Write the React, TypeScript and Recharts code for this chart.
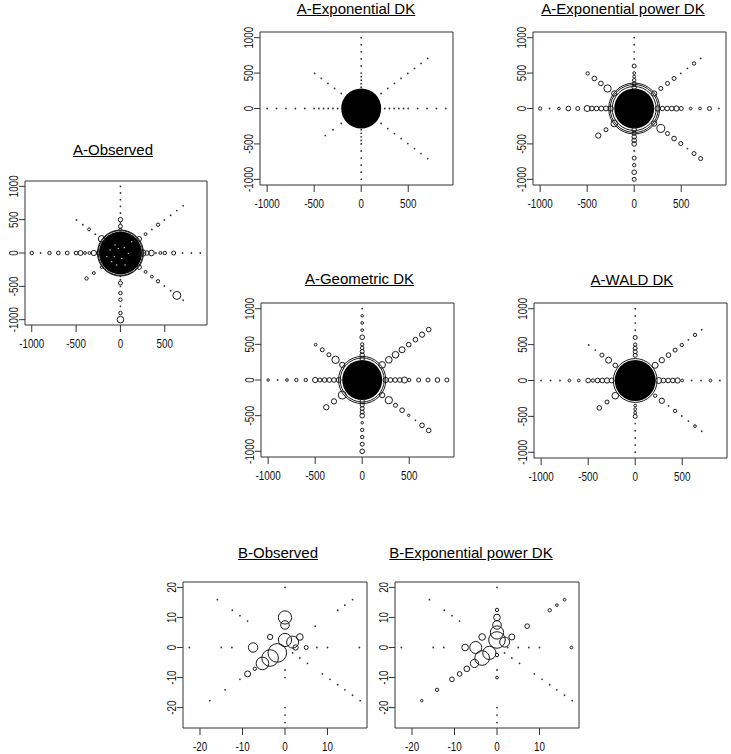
import { ScatterChart, Scatter, XAxis, YAxis, ZAxis, ReferenceArea } from "recharts";

type T = [number, number, number];

// tick values
const aTicksX = [-1000, -500, 0, 500];
const aTicksY = [-1000, -500, 0, 500, 1000];
const bTicksX = [-20, -10, 0, 10];
const bTicksY = [-20, -10, 0, 10, 20];
const aDomX: [number, number] = [-1076, 976];
const aDomY: [number, number] = [-1080, 1080];
const bDomX: [number, number] = [-24, 19.3];
const bDomY: [number, number] = [-26.8, 21.8];

// [x, y, n] : trap location and bubble value (n ~ squared radius)
const aObserved: T[] = [
  [-1000, 0, 3], [-900, 0, 1], [-800, 0, 3], [-700, 0, 3.5], [-600, 0, 3.5], [-500, 0, 3.5], [-450, 0, 6], [-400, 0, 2], [-350, 0, 2], [-300, 0, 7], [-250, 0, 4],
  [250, 0, 11], [300, 0, 5], [350, 0, 8], [400, 0, 1], [450, 0, 2], [500, 0, 3], [600, 0, 4], [700, 0, 1], [800, 0, 1], [900, 0, 1],
  [0, 1000, 1], [0, 900, 1], [0, 800, 1], [0, 700, 1], [0, 600, 1], [0, 500, 5], [0, 450, 1], [0, 400, 4], [0, 350, 2],
  [0, -350, 1], [0, -400, 1], [0, -450, 4], [0, -500, 1], [0, -600, 3], [0, -700, 3], [0, -800, 1], [0, -900, 3], [0, -1000, 11],
  [212, 212, 5.4], [283, 283, 2], [354, 354, 1], [424, 424, 2.8], [495, 495, 1], [566, 566, 1], [636, 636, 1], [707, 707, 1],
  [212, -212, 5], [283, -283, 2], [354, -354, 2], [424, -424, 2.8], [495, -495, 1], [566, -566, 1], [636, -636, 16], [707, -707, 1],
  [-495, 495, 1], [-424, 424, 1], [-354, 354, 2], [-283, 283, 1], [-212, 212, 11],
  [-382, -382, 2.8], [-300, -300, 2], [-212, -212, 1.8],
  [0, 0, 500], [0, 0, 530],
];
const aObservedCore: T[] = [[0, 0, 462]];
// light specks visible inside the saturated centre
const aObservedSpecks: T[] = [
  [-61, 120, 1], [-117, 45, 1], [-24, 70, 1], [44, 80, 1], [-69, -55, 1], [15, -80, 1],
  [89, -5, 1], [-98, -130, 1], [52, -180, 1], [-42, -180, 1], [127, 170, 1], [-154, -55, 1],
];

const aExponentialDK: T[] = [
  [-1000, 0, 1], [-900, 0, 1], [-800, 0, 1], [-700, 0, 1], [-600, 0, 1], [-500, 0, 1], [-450, 0, 1], [-400, 0, 1], [-350, 0, 1], [-300, 0, 1], [-250, 0, 1],
  [250, 0, 1], [300, 0, 1], [350, 0, 1], [400, 0, 1], [450, 0, 1], [500, 0, 1], [600, 0, 1], [700, 0, 1], [800, 0, 1], [900, 0, 1],
  [0, 1000, 1], [0, 900, 1], [0, 800, 1], [0, 700, 1], [0, 600, 1], [0, 500, 1], [0, 450, 1], [0, 400, 1], [0, 350, 1], [0, 300, 1],
  [0, -300, 1], [0, -350, 1], [0, -400, 1], [0, -450, 1], [0, -500, 1], [0, -600, 1], [0, -700, 1], [0, -800, 1], [0, -900, 1], [0, -1000, 1],
  [212, 212, 1], [283, 283, 1], [354, 354, 1], [424, 424, 1], [495, 495, 1], [566, 566, 1], [636, 636, 1], [707, 707, 1],
  [212, -212, 1], [283, -283, 1], [354, -354, 1], [424, -424, 1], [495, -495, 1], [566, -566, 1], [636, -636, 1], [707, -707, 1],
  [-212, 212, 1], [-283, 283, 1], [-354, 354, 1], [-424, 424, 1], [-495, 495, 1],
  [-212, -212, 1], [-300, -300, 1], [-382, -382, 1],
];
const aExponentialDKCore: T[] = [[0, 0, 400]];

const aExpPowerDK: T[] = [
  [-1000, 0, 2.8], [-900, 0, 1], [-800, 0, 1.8], [-700, 0, 5.4], [-600, 0, 4], [-500, 0, 9], [-450, 0, 5.4], [-400, 0, 5.4], [-350, 0, 6], [-300, 0, 6], [-250, 0, 7],
  [250, 0, 7], [300, 0, 5], [350, 0, 5.4], [400, 0, 5.4], [450, 0, 7], [500, 0, 4], [600, 0, 1.8], [700, 0, 1.8], [800, 0, 4], [900, 0, 1],
  [0, 1000, 1], [0, 900, 1], [0, 800, 1], [0, 700, 1], [0, 600, 4], [0, 500, 2], [0, 450, 2], [0, 400, 3], [0, 350, 4], [0, 300, 5],
  [0, -300, 5], [0, -350, 4], [0, -400, 5], [0, -450, 5.4], [0, -500, 5.4], [0, -600, 1], [0, -700, 4], [0, -800, 2.8], [0, -900, 5.4], [0, -1000, 4],
  [212, 212, 7], [283, 283, 4], [354, 354, 4], [424, 424, 4], [495, 495, 1], [566, 566, 1], [636, 636, 2.8], [707, 707, 1],
  [212, -212, 7], [283, -283, 16], [354, -354, 4], [424, -424, 5.4], [495, -495, 4], [566, -566, 1], [636, -636, 4], [707, -707, 4],
  [-495, 495, 2.8], [-424, 424, 5.4], [-354, 354, 5.4], [-283, 283, 13.4], [-212, 212, 7],
  [-382, -382, 7], [-300, -300, 4], [-212, -212, 11],
  [0, 0, 484], [0, 0, 576], [0, 0, 650],
];
const aExpPowerDKCore: T[] = [[0, 0, 400]];

const aGeometricDK: T[] = [
  [-1000, 0, 1.5], [-900, 0, 1], [-800, 0, 1.8], [-700, 0, 2.8], [-600, 0, 2.8], [-500, 0, 7], [-450, 0, 4], [-400, 0, 5.4], [-350, 0, 5.4], [-300, 0, 5.4], [-250, 0, 6],
  [250, 0, 7], [300, 0, 5.4], [350, 0, 5.4], [400, 0, 5.4], [450, 0, 9], [500, 0, 2.8], [600, 0, 4], [700, 0, 4], [800, 0, 5.4], [900, 0, 4],
  [0, 1000, 1], [0, 900, 1.5], [0, 800, 1.8], [0, 700, 1.8], [0, 600, 5.4], [0, 500, 2.8], [0, 450, 3], [0, 400, 4], [0, 350, 5], [0, 300, 5],
  [0, -300, 5], [0, -350, 4], [0, -400, 4], [0, -450, 4], [0, -500, 5.4], [0, -600, 1.5], [0, -700, 2.8], [0, -800, 2.8], [0, -900, 4], [0, -1000, 5.4],
  [212, 212, 11], [283, 283, 11], [354, 354, 11], [424, 424, 9], [495, 495, 5.4], [566, 566, 5.4], [636, 636, 7], [707, 707, 5.4],
  [212, -212, 7], [283, -283, 13.4], [354, -354, 4], [424, -424, 5.4], [495, -495, 1.5], [566, -566, 1], [636, -636, 5.4], [707, -707, 5.4],
  [-495, 495, 1.8], [-424, 424, 4], [-354, 354, 4], [-283, 283, 13.4], [-212, 212, 7],
  [-382, -382, 7], [-300, -300, 7], [-212, -212, 16],
  [0, 0, 484], [0, 0, 560],
];
const aGeometricDKCore: T[] = [[0, 0, 400]];

const aWaldDK: T[] = [
  [-1000, 0, 1], [-900, 0, 1], [-800, 0, 1], [-700, 0, 1.8], [-600, 0, 1.8], [-500, 0, 5.4], [-450, 0, 2.8], [-400, 0, 5.4], [-350, 0, 5.4], [-300, 0, 7], [-250, 0, 6],
  [250, 0, 9], [300, 0, 5.4], [350, 0, 5.4], [400, 0, 5.4], [450, 0, 7], [500, 0, 1.8], [600, 0, 1], [700, 0, 1], [800, 0, 1.8], [900, 0, 1],
  [0, 1000, 1], [0, 900, 1], [0, 800, 1], [0, 700, 1.3], [0, 600, 4], [0, 500, 2.8], [0, 450, 4], [0, 400, 4], [0, 350, 4],
  [0, -350, 2], [0, -400, 2], [0, -450, 2], [0, -500, 4], [0, -600, 1], [0, -700, 1], [0, -800, 1], [0, -900, 1], [0, -1000, 1],
  [212, 212, 9], [283, 283, 7], [354, 354, 5.4], [424, 424, 4], [495, 495, 2.8], [566, 566, 1], [636, 636, 2.8], [707, 707, 1],
  [212, -212, 2.8], [283, -283, 7], [354, -354, 1], [424, -424, 2.8], [495, -495, 1], [566, -566, 1], [636, -636, 1.8], [707, -707, 1],
  [-495, 495, 1], [-424, 424, 1], [-354, 354, 4], [-283, 283, 9], [-212, 212, 5],
  [-382, -382, 5.4], [-300, -300, 4], [-212, -212, 11],
  [0, 0, 480],
];
const aWaldDKCore: T[] = [[0, 0, 420]];

const bObserved: T[] = [
  [0, 20, 1], [-15.9, 15.9, 1], [-12.4, 12.4, 1], [-10.6, 10.6, 1], [-8.8, 8.8, 1],
  [-22.5, 0, 1], [-15, 0, 1], [-12.5, 0, 1], [7.5, 0, 1], [10, 0, 1], [17.5, 0, 1],
  [-17.7, -17.7, 1], [-14.1, -14.1, 1], [-10.6, -10.6, 1],
  [0, -7.5, 1], [0, -10, 1], [0, -20, 1], [0, -22.5, 1], [0, -25, 1],
  [7.1, 7.1, 1], [12.4, 12.4, 1], [14.1, 14.1, 1], [15.9, 15.9, 1],
  [1.8, -1.8, 1], [3.5, -3.5, 1], [5.3, -5.3, 1], [8.8, -8.8, 1], [10.6, -10.6, 1], [12.4, -12.4, 1], [14.1, -14.1, 1], [15.9, -15.9, 1], [17.7, -17.7, 1],
  [0, 10, 44], [0, 7.5, 18.5], [-3.5, 3.5, 7], [3.5, 3.5, 11], [0, 2.5, 44], [1.8, 1.8, 36],
  [-7.5, 0, 22], [2.5, 0, 7], [5, 0, 4],
  [-1.8, -1.8, 87], [-3.5, -3.5, 69], [-5.3, -5.3, 40], [-7.1, -7.1, 2.8], [-8.8, -8.8, 9],
];

const bExpPowerDK: T[] = [
  [0, 20, 1], [-15.9, 15.9, 1], [-12.4, 12.4, 1], [-10.6, 10.6, 1], [-8.8, 8.8, 1],
  [-22.5, 0, 1], [-15, 0, 1], [-12.5, 0, 1], [2.5, 0, 1], [5, 0, 1], [7.5, 0, 1], [10, 0, 1],
  [1.8, -1.8, 1], [3.5, -3.5, 1], [5.3, -5.3, 1], [8.8, -8.8, 1], [10.6, -10.6, 1], [12.4, -12.4, 1], [14.1, -14.1, 1], [15.9, -15.9, 1], [17.7, -17.7, 1],
  [0, -7.5, 1.2], [0, -20, 1.2], [0, -22.5, 1.2], [0, -25, 1.2],
  [-17.7, -17.7, 1.5], [-14.1, -14.1, 2.8], [-10.6, -10.6, 5.4], [-8.8, -8.8, 5.4], [-7.1, -7.1, 8], [-5.3, -5.3, 17], [-3.5, -3.5, 54], [-1.8, -1.8, 44],
  [0, -2.5, 2.8], [0, -10, 1.8], [-7.5, 0, 11], [-5, 0, 36], [-3.5, 3.5, 11],
  [0, 2.5, 69], [1.8, 1.8, 25], [3.5, 3.5, 9], [0, 5, 44], [0, 7.5, 18.5], [0, 10, 11], [0, 12.5, 2.8],
  [7.1, 7.1, 5.4], [12.4, 12.4, 2.8], [14.1, 14.1, 1.8], [15.9, 15.9, 1.8], [17.5, 0, 1.8],
];

const toPts = (a: T[]) => a.map(([x, y, n]) => ({ x, y, n }));

const FONT = "'Liberation Sans', Arial, Helvetica, sans-serif";

function Bubble(props: any) {
  const { cx, cy } = props;
  if (cx == null || cy == null) return null;
  const r = props.width ? props.width / 2 : Math.sqrt((props.size || 0) / Math.PI);
  if (r < 1.15) return <circle cx={cx} cy={cy} r={0.9} fill="#333" />;
  return <circle cx={cx} cy={cy} r={r} fill="none" stroke="#1a1a1a" strokeWidth={1} />;
}

function CoreDot(props: any) {
  const { cx, cy } = props;
  if (cx == null || cy == null) return null;
  const r = props.width ? props.width / 2 : Math.sqrt((props.size || 0) / Math.PI);
  return <circle cx={cx} cy={cy} r={r} fill="#000" />;
}

function Speck(props: any) {
  const { cx, cy } = props;
  if (cx == null || cy == null) return null;
  return <circle cx={cx} cy={cy} r={0.7} fill="#ddd" />;
}

function XTick({ x, y, payload }: any) {
  return (
    <text transform={`translate(${x},${y + 12}) scale(0.82,1)`} textAnchor="middle" fontSize={12} fill="#111" fontFamily={FONT}>
      {payload.value}
    </text>
  );
}

function YTick({ x, y, payload }: any) {
  return (
    <text transform={`translate(${x},${y}) rotate(-90) scale(0.82,1)`} textAnchor="middle" fontSize={12} fill="#111" fontFamily={FONT}>
      {payload.value}
    </text>
  );
}

interface PanelProps {
  box: [number, number, number, number];
  xDomain: [number, number];
  yDomain: [number, number];
  xTicks: number[];
  yTicks: number[];
  points: T[];
  core?: T[];
  specks?: T[];
}

function Panel({ box, xDomain, yDomain, xTicks, yTicks, points, core, specks }: PanelProps) {
  const [bx, by, bw, bh] = box;
  return (
    <div style={{ position: "absolute", left: bx - 40, top: by - 10 }}>
      <ScatterChart width={bw + 50} height={bh + 40} margin={{ top: 10, right: 10, bottom: 0, left: 0 }}>
        <XAxis type="number" dataKey="x" domain={xDomain} ticks={xTicks} interval={0} allowDataOverflow height={30}
          axisLine={false} tickSize={7} tickMargin={4} tickLine={{ stroke: "#333" }} tick={<XTick />} />
        <YAxis type="number" dataKey="y" domain={yDomain} ticks={yTicks} interval={0} allowDataOverflow width={40}
          axisLine={false} tickSize={6} tickMargin={1} tickLine={{ stroke: "#333" }} tick={<YTick />} />
        <ZAxis type="number" dataKey="n" domain={[0, 1000]} range={[0, 1000 * Math.PI]} />
        <ReferenceArea x1={xDomain[0]} x2={xDomain[1]} y1={yDomain[0]} y2={yDomain[1]} fill="none" stroke="#333" strokeWidth={1} />
        {core && <Scatter data={toPts(core)} shape={<CoreDot />} isAnimationActive={false} />}
        {specks && <Scatter data={toPts(specks)} shape={<Speck />} isAnimationActive={false} />}
        <Scatter data={toPts(points)} shape={<Bubble />} isAnimationActive={false} />
      </ScatterChart>
    </div>
  );
}

function Title({ text, cx, base }: { text: string; cx: number; base: number }) {
  return (
    <div style={{ position: "absolute", left: cx - 120, top: base - 14, width: 240, textAlign: "center",
      fontFamily: FONT, fontSize: 15, lineHeight: "18px", color: "#000", textDecoration: "underline" }}>
      {text}
    </div>
  );
}

export default function App() {
  return (
    <div style={{ position: "absolute", left: 0, top: 0, width: 731, height: 754, background: "#fff", overflow: "hidden" }}>
      <Title text="A-Observed" cx={113} base={155} />
      <Title text="A-Exponential DK" cx={356} base={13.5} />
      <Title text="A-Exponential power DK" cx={623} base={13.5} />
      <Title text="A-Geometric DK" cx={359.5} base={284} />
      <Title text="A-WALD DK" cx={632} base={285} />
      <Title text="B-Observed" cx={278} base={557.5} />
      <Title text="B-Exponential power DK" cx={471} base={557.5} />

      <Panel box={[25, 181, 182, 144]} xDomain={aDomX} yDomain={aDomY} xTicks={aTicksX} yTicks={aTicksY} points={aObserved} core={aObservedCore} specks={aObservedSpecks} />
      <Panel box={[260, 32, 193, 153]} xDomain={aDomX} yDomain={aDomY} xTicks={aTicksX} yTicks={aTicksY} points={aExponentialDK} core={aExponentialDKCore} />
      <Panel box={[533, 32, 193, 153]} xDomain={aDomX} yDomain={aDomY} xTicks={aTicksX} yTicks={aTicksY} points={aExpPowerDK} core={aExpPowerDKCore} />
      <Panel box={[261, 303, 193, 154]} xDomain={aDomX} yDomain={aDomY} xTicks={aTicksX} yTicks={aTicksY} points={aGeometricDK} core={aGeometricDKCore} />
      <Panel box={[534, 303, 193, 155]} xDomain={aDomX} yDomain={aDomY} xTicks={aTicksX} yTicks={aTicksY} points={aWaldDK} core={aWaldDKCore} />
      <Panel box={[183, 582, 184, 146]} xDomain={bDomX} yDomain={bDomY} xTicks={bTicksX} yTicks={bTicksY} points={bObserved} />
      <Panel box={[395, 582, 184, 146]} xDomain={bDomX} yDomain={bDomY} xTicks={bTicksX} yTicks={bTicksY} points={bExpPowerDK} />
    </div>
  );
}
